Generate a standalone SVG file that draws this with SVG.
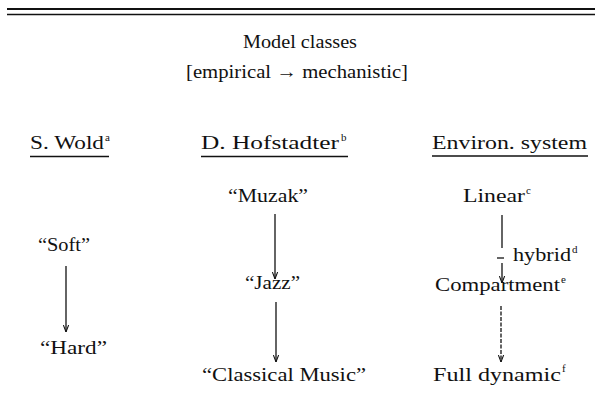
<svg xmlns="http://www.w3.org/2000/svg" width="595" height="404" viewBox="0 0 595 404">
<style>
text{font-family:"Liberation Serif","Times New Roman",serif;font-size:19px;fill:#111}
.sup{font-size:11px}
.ul{stroke:#111;stroke-width:1.4}
.conn{stroke:#111;stroke-width:1.3;fill:none}
.dash{stroke-dasharray:4 1.5}
</style>
<defs>
<marker id="ah" viewBox="0 0 8 8" refX="8" refY="4" markerWidth="7" markerHeight="7" markerUnits="userSpaceOnUse" orient="auto">
<path d="M0,1 L8,4 L0,7" fill="none" stroke="#111" stroke-width="1.2"/>
</marker>
</defs>
<rect width="595" height="404" fill="#fff"/>
<g id="rule">
<line x1="7" y1="9" x2="595" y2="9" stroke="#111" stroke-width="1.9"/>
<line x1="7" y1="14.5" x2="595" y2="14.5" stroke="#111" stroke-width="1.4"/>
</g>
<g id="title">
<text x="243" y="48" textLength="114" lengthAdjust="spacingAndGlyphs">Model classes</text>
<text x="186" y="78" textLength="222" lengthAdjust="spacingAndGlyphs">[empirical → mechanistic]</text>
</g>
<g id="head-wold">
<text x="30" y="149" textLength="74" lengthAdjust="spacingAndGlyphs">S. Wold</text>
<text class="sup" x="105" y="141">a</text>
<line class="ul" x1="30" y1="156.5" x2="109" y2="156.5"/>
</g>
<g id="head-hofstadter">
<text x="201" y="149" textLength="138" lengthAdjust="spacingAndGlyphs">D. Hofstadter</text>
<text class="sup" x="341" y="141">b</text>
<line class="ul" x1="201" y1="156.5" x2="348" y2="156.5"/>
</g>
<g id="head-environ">
<text x="432" y="149" textLength="155" lengthAdjust="spacingAndGlyphs">Environ. system</text>
<line class="ul" x1="432" y1="156" x2="588" y2="156"/>
</g>
<g id="soft"><text x="38" y="251" textLength="52" lengthAdjust="spacingAndGlyphs">“Soft”</text></g>
<g id="hard"><text x="40" y="354" textLength="67" lengthAdjust="spacingAndGlyphs">“Hard”</text></g>
<g id="muzak"><text x="228" y="202" textLength="80" lengthAdjust="spacingAndGlyphs">“Muzak”</text></g>
<g id="jazz"><text x="245" y="289" textLength="55" lengthAdjust="spacingAndGlyphs">“Jazz”</text></g>
<g id="classical"><text x="202" y="381" textLength="164" lengthAdjust="spacingAndGlyphs">“Classical Music”</text></g>
<g id="linear"><text x="463" y="202" textLength="62" lengthAdjust="spacingAndGlyphs">Linear</text><text class="sup" x="526" y="194">c</text></g>
<g id="hybrid"><text x="513" y="261" textLength="58" lengthAdjust="spacingAndGlyphs">hybrid</text><text class="sup" x="572" y="253">d</text></g>
<g id="compartment"><text x="435" y="291" textLength="125" lengthAdjust="spacingAndGlyphs">Compartment</text><text class="sup" x="561" y="283">e</text></g>
<g id="fulldynamic"><text x="433" y="381" textLength="128" lengthAdjust="spacingAndGlyphs">Full dynamic</text><text class="sup" x="562" y="372">f</text></g>
<g id="connectors">
<line class="conn" x1="66" y1="266" x2="66" y2="332" marker-end="url(#ah)"/>
<line class="conn" x1="275" y1="214" x2="275" y2="279" marker-end="url(#ah)"/>
<line class="conn" x1="276" y1="302" x2="276" y2="362" marker-end="url(#ah)"/>
<line class="conn" x1="502" y1="215" x2="502" y2="248"/>
<line class="conn" x1="497" y1="258" x2="504" y2="258"/>
<line class="conn" x1="502" y1="263" x2="502" y2="283" marker-end="url(#ah)"/>
<line class="conn dash" x1="501" y1="306" x2="501" y2="362" marker-end="url(#ah)"/>
</g>
</svg>
